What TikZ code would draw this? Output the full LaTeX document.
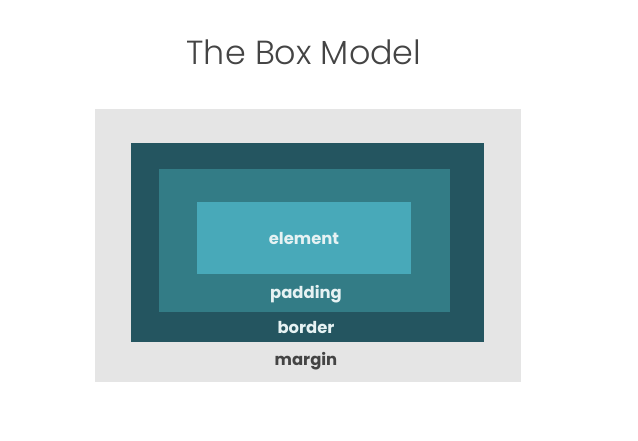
\documentclass[tikz,border=0pt]{standalone}
\usepackage{fontspec}
\setmainfont{Poppins}
\newfontfamily\titlefont{Poppins Light}
\usepackage{xcolor}
\usepackage{tikz}
\usetikzlibrary{positioning}

\definecolor{marginbg}{HTML}{E5E5E5}
\definecolor{borderbg}{HTML}{245560}
\definecolor{paddingbg}{HTML}{337C86}
\definecolor{elembg}{HTML}{48A9B9}
\definecolor{inktxt}{HTML}{444444}
\definecolor{lighttxt}{HTML}{E6F2F3}

\begin{document}
\begin{tikzpicture}[
  x=0.03cm, y=-0.03cm,
  layer/.style={inner sep=0pt, outer sep=0pt},
  lbl/.style={font=\fontsize{14}{16}\selectfont\bfseries, text=lighttxt, inner sep=0pt},
  ttl/.style={font=\titlefont\fontsize{28.5}{33}\selectfont, text=inktxt}
]
  \useasboundingbox (0,0) rectangle (638,440);

  \node[ttl] (title) at (304,52) {The Box Model};

  \node[layer, fill=marginbg, minimum width=12.78cm, minimum height=8.19cm] (margin) at (308,245.5) {};
  \node[layer, fill=borderbg, minimum width=10.59cm, minimum height=5.97cm] (border) at (307.5,242.5) {};
  \node[layer, fill=paddingbg, minimum width=8.73cm, minimum height=4.29cm] (padding) at (304.5,240.5) {};
  \node[layer, fill=elembg, minimum width=6.42cm, minimum height=2.16cm] (elem) at (304,238) {};

  \node[lbl] (elemlbl) at (elem) {element};
  \node[lbl] (padlbl) at (306,294) {padding};
  \node[lbl] (borderlbl) at (306,327) {border};
  \node[lbl, text=inktxt] (marginlbl) at (306,361) {margin};
\end{tikzpicture}
\end{document}
